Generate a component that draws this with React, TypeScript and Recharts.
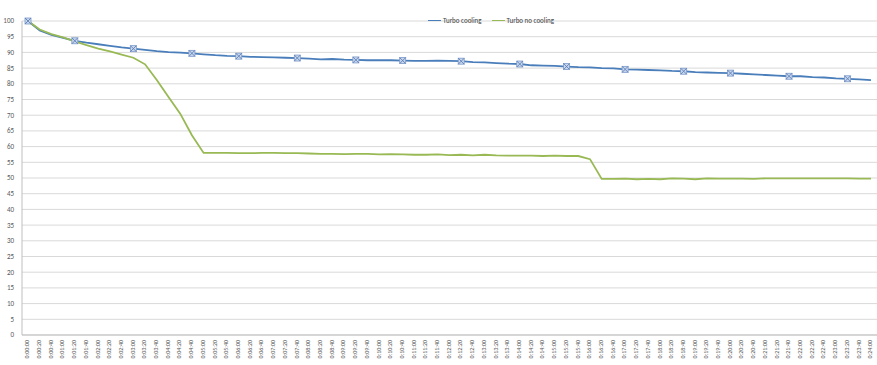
import { LineChart, Line, XAxis, YAxis, CartesianGrid, Legend } from "recharts";

const times = [
  "0:00:00", "0:00:20", "0:00:40", "0:01:00", "0:01:20", "0:01:40", "0:02:00", "0:02:20", "0:02:40",
  "0:03:00", "0:03:20", "0:03:40", "0:04:00", "0:04:20", "0:04:40", "0:05:00", "0:05:20", "0:05:40",
  "0:06:00", "0:06:20", "0:06:40", "0:07:00", "0:07:20", "0:07:40", "0:08:00", "0:08:20", "0:08:40",
  "0:09:00", "0:09:20", "0:09:40", "0:10:00", "0:10:20", "0:10:40", "0:11:00", "0:11:20", "0:11:40",
  "0:12:00", "0:12:20", "0:12:40", "0:13:00", "0:13:20", "0:13:40", "0:14:00", "0:14:20", "0:14:40",
  "0:15:00", "0:15:20", "0:15:40", "0:16:00", "0:16:20", "0:16:40", "0:17:00", "0:17:20", "0:17:40",
  "0:18:00", "0:18:20", "0:18:40", "0:19:00", "0:19:20", "0:19:40", "0:20:00", "0:20:20", "0:20:40",
  "0:21:00", "0:21:20", "0:21:40", "0:22:00", "0:22:20", "0:22:40", "0:23:00", "0:23:20", "0:23:40",
  "0:24:00",
];

const turboCooling = [
  100, 97.0, 95.6, 94.6, 93.7, 93.1, 92.6, 92.1, 91.6,
  91.2, 90.8, 90.4, 90.1, 89.9, 89.7, 89.4, 89.1, 88.9,
  88.8, 88.6, 88.5, 88.4, 88.3, 88.2, 88.0, 87.8, 87.9,
  87.7, 87.6, 87.5, 87.5, 87.5, 87.4, 87.3, 87.3, 87.4,
  87.3, 87.2, 86.9, 86.8, 86.6, 86.4, 86.3, 85.9, 85.8,
  85.7, 85.5, 85.3, 85.2, 85.0, 84.9, 84.6, 84.5, 84.4,
  84.3, 84.1, 84.0, 83.7, 83.6, 83.5, 83.4, 83.2, 83.0,
  82.8, 82.6, 82.4, 82.4, 82.1, 82.0, 81.7, 81.6, 81.4,
  81.2,
];

const turboNoCooling = [
  100, 97.3, 95.8, 94.8, 93.5, 92.3, 91.2, 90.3, 89.3,
  88.3, 86.2, 81.2, 75.8, 70.5, 63.6, 58.0, 58.0, 58.0,
  57.9, 57.9, 58.0, 58.0, 57.9, 57.9, 57.8, 57.7, 57.7,
  57.6, 57.7, 57.7, 57.5, 57.6, 57.5, 57.4, 57.4, 57.5,
  57.3, 57.4, 57.2, 57.4, 57.2, 57.1, 57.1, 57.1, 57.0,
  57.1, 57.0, 57.0, 56.0, 49.7, 49.7, 49.8, 49.6, 49.7,
  49.6, 49.9, 49.8, 49.6, 49.9, 49.8, 49.8, 49.8, 49.7,
  49.9, 49.9, 49.9, 49.9, 49.9, 49.9, 49.9, 49.9, 49.8,
  49.8,
];

// points where the cooling series shows its marker
const coolingMarkers = [0, 4, 9, 14, 18, 23, 28, 32, 37, 42, 46, 51, 56, 60, 65, 70];

const yTicks = [0, 5, 10, 15, 20, 25, 30, 35, 40, 45, 50, 55, 60, 65, 70, 75, 80, 85, 90, 95, 100];

const data = times.map((t, i) => ({
  time: t,
  cooling: turboCooling[i],
  noCooling: turboNoCooling[i],
}));

const BLUE = "#4A7EBB";
const GREEN = "#98B954";
const FONT = "Carlito, 'Liberation Sans', Arial, sans-serif";

function CoolingDot(props: any) {
  const { cx, cy, index } = props;
  if (!coolingMarkers.includes(index)) return <g key={`d${index}`} />;
  const s = 3;
  return (
    <g key={`d${index}`}>
      <rect x={cx - s} y={cy - s} width={s * 2} height={s * 2} fill="#c9d7ec" stroke="#7c9acb" strokeWidth={0.8} />
      <line x1={cx - s} y1={cy - s} x2={cx + s} y2={cy + s} stroke="#5f80b8" strokeWidth={0.9} />
      <line x1={cx - s} y1={cy + s} x2={cx + s} y2={cy - s} stroke="#5f80b8" strokeWidth={0.9} />
    </g>
  );
}

function LegendContent() {
  const items = [
    { label: "Turbo cooling", color: BLUE },
    { label: "Turbo no cooling", color: GREEN },
  ];
  return (
    <div style={{ display: "flex", gap: 10, fontFamily: FONT, fontSize: 7, color: "#404040" }}>
      {items.map((it) => (
        <span key={it.label} style={{ display: "flex", alignItems: "center", gap: 2 }}>
          <span style={{ width: 13, height: 1.5, background: it.color, display: "inline-block" }} />
          {it.label}
        </span>
      ))}
    </div>
  );
}

export default function App() {
  return (
    <div style={{ position: "absolute", left: 0, top: 0, background: "#fff" }}>
      <LineChart width={877} height={365} data={data} margin={{ top: 12, right: 0, left: 0, bottom: 0 }}>
        <CartesianGrid vertical={false} stroke="#d9d9d9" strokeWidth={1} />
        <XAxis
          dataKey="time"
          interval={0}
          height={30}
          padding={{ left: 6, right: 6 }}
          axisLine={{ stroke: "#bfbfbf" }}
          tickLine={false}
          angle={-90}
          textAnchor="end"
          dy={-3}
          dx={-3}
          tick={{ fontSize: 6, fill: "#595959", fontFamily: FONT }}
        />
        <YAxis
          domain={[0, 100]}
          ticks={yTicks}
          interval={0}
          width={22}
          axisLine={{ stroke: "#bfbfbf" }}
          tickLine={false}
          tick={{ fontSize: 7, fill: "#595959", fontFamily: FONT }}
        />
        <Legend
          verticalAlign="top"
          content={<LegendContent />}
          wrapperStyle={{ top: 16, left: 428, width: "auto" }}
        />
        <Line
          dataKey="cooling"
          name="Turbo cooling"
          stroke={BLUE}
          strokeWidth={1.8}
          dot={CoolingDot}
          activeDot={false}
          isAnimationActive={false}
        />
        <Line
          dataKey="noCooling"
          name="Turbo no cooling"
          stroke={GREEN}
          strokeWidth={1.8}
          dot={false}
          activeDot={false}
          isAnimationActive={false}
        />
      </LineChart>
    </div>
  );
}
